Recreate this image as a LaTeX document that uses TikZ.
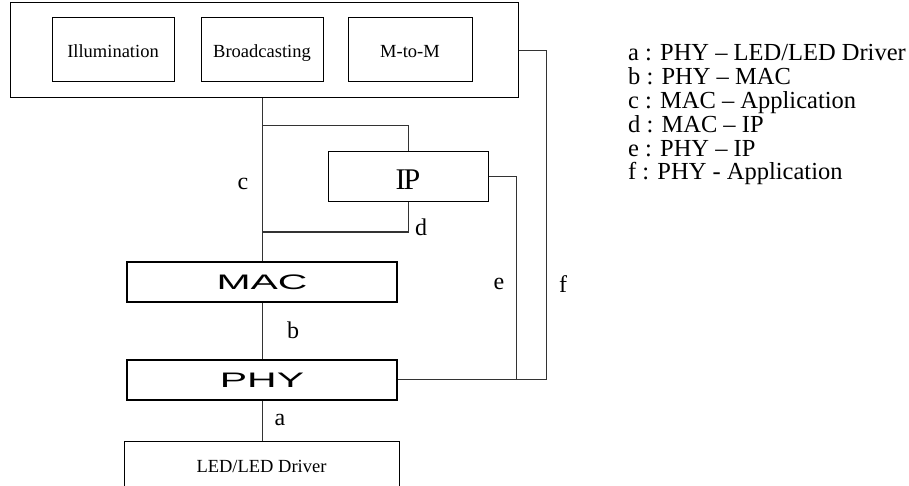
\documentclass[tikz,border=0pt]{standalone}
\usepackage{fontspec}
\setmainfont{Liberation Serif}
\setsansfont{Liberation Sans}

\tikzset{
  box/.style={draw, inner sep=0pt, line width=1pt, text height=15pt, text depth=0pt,
    font=\fontsize{18.5}{18.5}\selectfont},
  layerbox/.style={draw, line width=2pt, inner sep=0pt, minimum width=270pt, minimum height=40pt,
    text height=15pt, text depth=0pt, font=\sffamily\fontsize{21}{21}\selectfont},
  wire/.style={line width=1pt, draw=black!80},
  lbl/.style={font=\fontsize{24}{24}\selectfont, inner sep=0pt},
  legtext/.style={font=\fontsize{24.5}{24.5}\selectfont, inner sep=0pt, anchor=base west},
}

\begin{document}
\begin{tikzpicture}[x=1pt,y=-1pt]
\useasboundingbox (0,0) rectangle (909,486);

% application block
\node[box, minimum width=508pt, minimum height=95pt] (app) at (264,50.5) {};
\node[box, minimum width=122pt, minimum height=64pt] (illum) at (113,50) {Illumination};
\node[box, minimum width=122pt, minimum height=64pt] (broad) at (262,50) {Broadcasting};
\node[box, minimum width=124pt, minimum height=64pt] (mtm) at (410,50) {M-to-M};

% layers
\node[box, minimum width=160pt, minimum height=50pt, text height=26pt,
  font=\fontsize{30}{30}\selectfont] (ip) at (408,177) {I\kern-2pt P};
\node[layerbox] (mac) at (262,282) {\scalebox{1.95}[1]{MAC}};
\node[layerbox] (phy) at (262,379.5) {\scalebox{1.95}[1]{PHY}};
\node[box, minimum width=275pt, minimum height=48pt] (led) at (261.5,465) {LED/LED Driver};

% junction points
\coordinate (cBranch) at (262,126);
\coordinate (ipIn) at (ip.north |- cBranch);
\coordinate (dJoin) at (262,232);
\coordinate (dLow) at (ip.south |- dJoin);
\coordinate (eLow) at (516,379.5);
\coordinate (fLow) at (546,379.5);

% interfaces
\draw[wire] (app.south -| mac.north) -- (mac.north);
\draw[wire] (cBranch) -- (ipIn) -- (ip.north);
\draw[wire] (ip.south) -- (dLow) -- (dJoin);
\draw[wire] (mac.south) -- (phy.north);
\draw[wire] (phy.south) -- (phy.south |- led.north);
\draw[wire] (ip.east) -| (eLow);
\draw[wire] (phy.east) -- (fLow);
\draw[wire] (app.east) -| (fLow);

% interface labels
\node[lbl] (la) at (280,420) {a};
\node[lbl] (lb) at (293,330) {b};
\node[lbl] (lc) at (243,184) {c};
\node[lbl] (ld) at (421,227) {d};
\node[lbl] (le) at (499,284) {e};
\node[lbl] (lf) at (563,284) {f};

% legend
\foreach \txt [count=\i] in {{a : PHY – LED/LED Driver}, {b : PHY – MAC}, {c : MAC – Application},
    {d : MAC – IP}, {e : PHY – IP}, {f : PHY - Application}}
  \node[legtext] (leg\i) at (628,{61+23.8*(\i-1)}) {\txt};
\end{tikzpicture}
\end{document}
